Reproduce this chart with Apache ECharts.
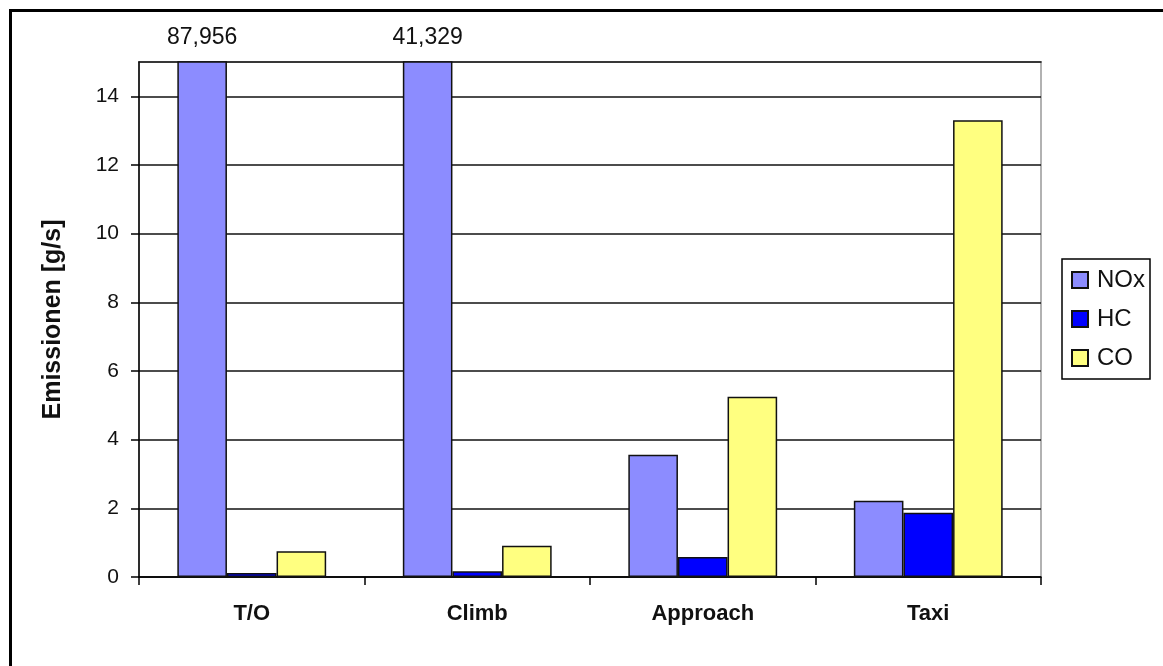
<!DOCTYPE html>
<html>
<head>
<meta charset="utf-8">
<script src="https://cdn.jsdelivr.net/npm/echarts@6/dist/echarts.min.js"></script>
<style>
html,body{margin:0;padding:0;background:#fff;}
#chart{width:1163px;height:666px;}
</style>
</head>
<body>
<div id="chart"></div>
<script>
var categories = ['T/O', 'Climb', 'Approach', 'Taxi'];
var seriesNames = ['NOx', 'HC', 'CO'];
var noxValues = [87.956, 41.329, 3.56, 2.22];
var hcValues = [0.12, 0.17, 0.58, 1.87];
var coValues = [0.75, 0.91, 5.25, 13.3];
var yTickValues = [0, 2, 4, 6, 8, 10, 12, 14];
var yMax = 15;

var FONT = "'Liberation Sans', Arial, sans-serif";

function fmt(v) { return String(v).replace('.', ','); }

function buildData(values) {
  return values.map(function (v) {
    if (v > yMax) {
      return { value: v, label: { show: true } };
    }
    return v;
  });
}

var colors = ['#8c8cff', '#0000ff', '#ffff80'];
var valueLists = [noxValues, hcValues, coValues];

var chart = echarts.init(document.getElementById('chart'));
chart.setOption({
  animation: false,
  backgroundColor: '#fff',
  textStyle: { fontFamily: FONT },
  graphic: [{
    type: 'rect',
    left: 8, top: 8,
    shape: { width: 1300, height: 800 },
    style: { fill: 'none', stroke: '#000', lineWidth: 3 },
    silent: true
  }],
  grid: {
    left: 139, right: 122, top: 62, bottom: 89,
    show: true, borderColor: '#999', borderWidth: 1.5, backgroundColor: '#fff'
  },
  legend: {
    orient: 'vertical',
    left: 1062, top: 259,
    padding: [9, 5, 9, 9],
    itemWidth: 16, itemHeight: 16, itemGap: 15,
    borderColor: '#000', borderWidth: 1.5,
    icon: 'rect',
    textStyle: { fontFamily: FONT, fontSize: 24, color: '#111', padding: [0, 0, 0, 4] },
    data: seriesNames
  },
  xAxis: [{
    type: 'category',
    data: categories,
    axisLine: { lineStyle: { color: '#000', width: 1.5 } },
    axisTick: { show: true, length: 8, lineStyle: { color: '#000', width: 1.5 } },
    axisLabel: { fontFamily: FONT, fontSize: 22, fontWeight: 'bold', color: '#111', margin: 26 },
    splitLine: { show: false }
  }, {
    type: 'category',
    data: categories,
    position: 'top',
    axisLine: { show: true, lineStyle: { color: '#111', width: 1.5 } },
    axisTick: { show: false },
    axisLabel: { show: false },
    splitLine: { show: false }
  }],
  yAxis: {
    type: 'value',
    min: 0, max: yMax, interval: 2,
    name: 'Emissionen [g/s]',
    nameLocation: 'middle',
    nameGap: 73,
    nameTextStyle: { fontFamily: FONT, fontSize: 25, fontWeight: 'bold', color: '#111' },
    axisLine: { show: true, lineStyle: { color: '#000', width: 1.5 } },
    axisTick: { show: true, length: 8, lineStyle: { color: '#000', width: 1.5 }, customValues: yTickValues },
    axisLabel: { fontFamily: FONT, fontSize: 21, color: '#111', margin: 20, customValues: yTickValues },
    splitLine: { show: true, lineStyle: { color: '#111', width: 1.5 } }
  },
  series: seriesNames.map(function (name, i) {
    return {
      name: name,
      type: 'bar',
      data: buildData(valueLists[i]),
      barGap: '0%',
      barCategoryGap: '34%',
      clip: true,
      itemStyle: { color: colors[i], borderColor: '#111', borderWidth: 1.5 },
      label: {
        show: false,
        position: 'top',
        distance: 12,
        fontFamily: FONT,
        fontSize: 23,
        color: '#111',
        formatter: function (p) { return fmt(p.value); }
      }
    };
  })
});
</script>
</body>
</html>
